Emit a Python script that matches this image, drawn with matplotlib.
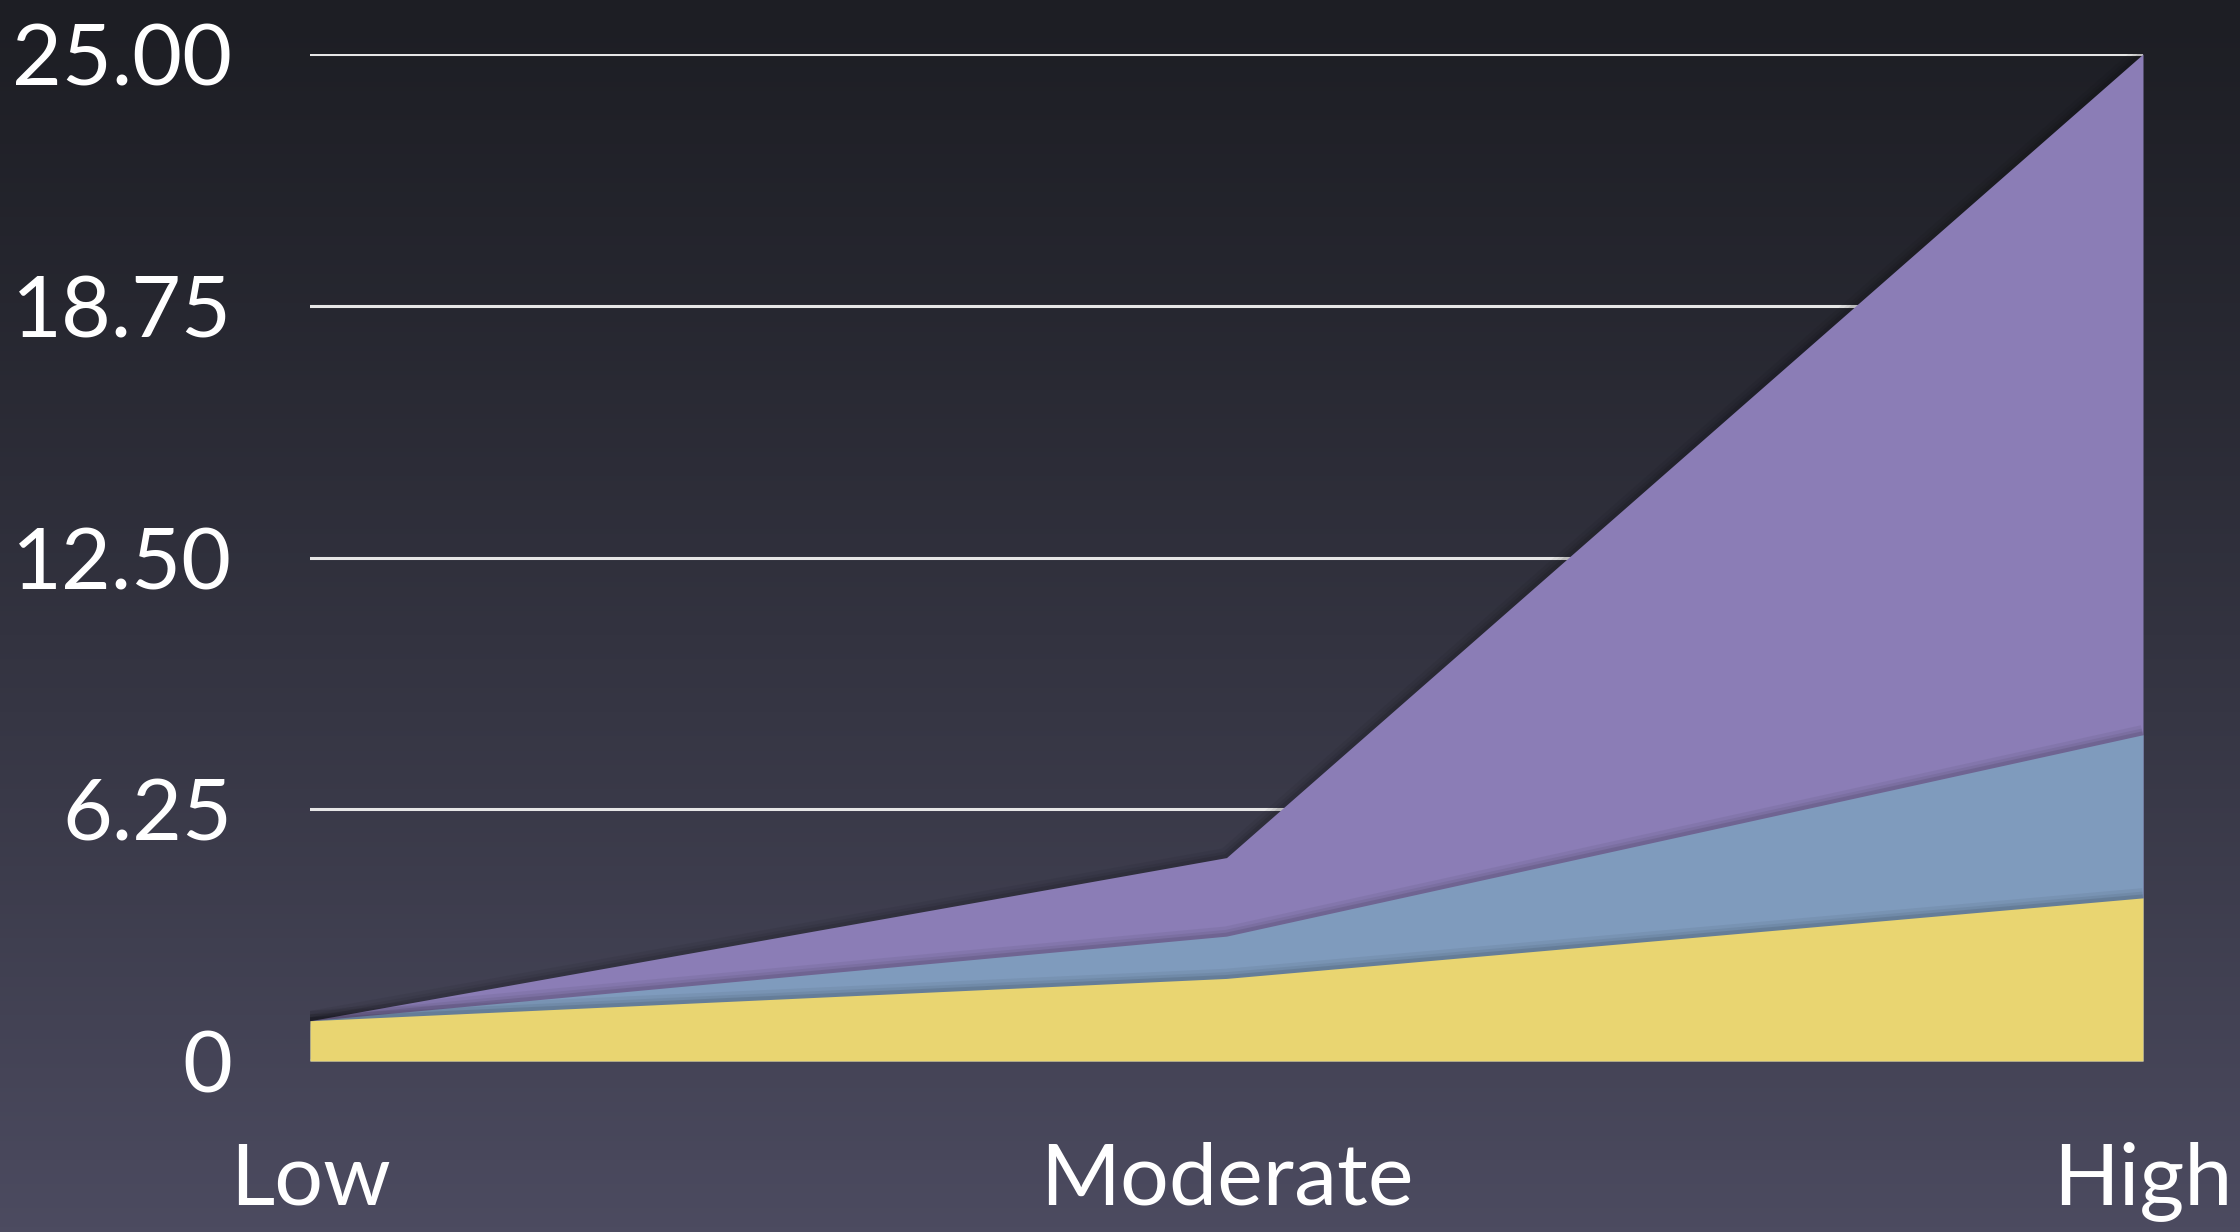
import numpy as np
import matplotlib
matplotlib.use("Agg")
import matplotlib.pyplot as plt

categories = ["Low", "Moderate", "High"]
yellow_vals = [1.0, 2.05, 4.05]
blue_vals = [1.0, 3.1, 8.1]
purple_vals = [1.0, 5.05, 25.0]
yticks = [0, 6.25, 12.5, 18.75, 25.0]
ytick_labels = ["0", "6.25", "12.50", "18.75", "25.00"]

W, H, DPI = 2240, 1232, 100
fig = plt.figure(figsize=(W / DPI, H / DPI), dpi=DPI)

# background gradient
bg = fig.add_axes([0, 0, 1, 1], zorder=-10)
top = np.array([29, 30, 36]) / 255.0
bot = np.array([76, 75, 96]) / 255.0
t = np.linspace(0, 1, 256)[:, None] ** 1.15
grad = top[None, :] * (1 - t) + bot[None, :] * t
img = np.repeat(grad[:, None, :], 4, axis=1)
bg.imshow(img, aspect="auto", extent=[0, 1, 0, 1], origin="upper")
bg.axis("off")

ax = fig.add_axes([310 / W, (H - 1061) / H, (2143 - 310) / W, (1061 - 54) / H])
ax.set_facecolor("none")
x = np.arange(len(categories))

for v in yticks[1:]:
    ax.axhline(v, color="#e6e6e6", lw=2.2, zorder=1)
ax.axhline(0, color="#9a9a9a", lw=3, zorder=1)

layers = [(purple_vals, "#8b7db6"), (blue_vals, "#7f9bbd"), (yellow_vals, "#e9d571")]
z = 2
for vals, col in layers:
    # soft shadow along top edge
    for lw, a in [(14, 0.05), (9, 0.06), (5, 0.09)]:
        ax.plot(x, vals, color="black", lw=lw, alpha=a, zorder=z, solid_capstyle="butt")
    ax.fill_between(x, 0, vals, color=col, lw=0, zorder=z + 1)
    z += 2

ax.set_xlim(0, 2)
ax.set_ylim(0, 25)
ax.set_xticks(x)
ax.set_xticklabels(categories)
ax.set_yticks(yticks)
ax.set_yticklabels(ytick_labels)
for s in ax.spines.values():
    s.set_visible(False)
ax.tick_params(axis="both", length=0, labelcolor="white", labelsize=62)
ax.tick_params(axis="y", pad=56)
ax.tick_params(axis="x", pad=58)
for lab in ax.get_xticklabels() + ax.get_yticklabels():
    lab.set_fontfamily("Lato")

fig.savefig("out.png", dpi=DPI)
